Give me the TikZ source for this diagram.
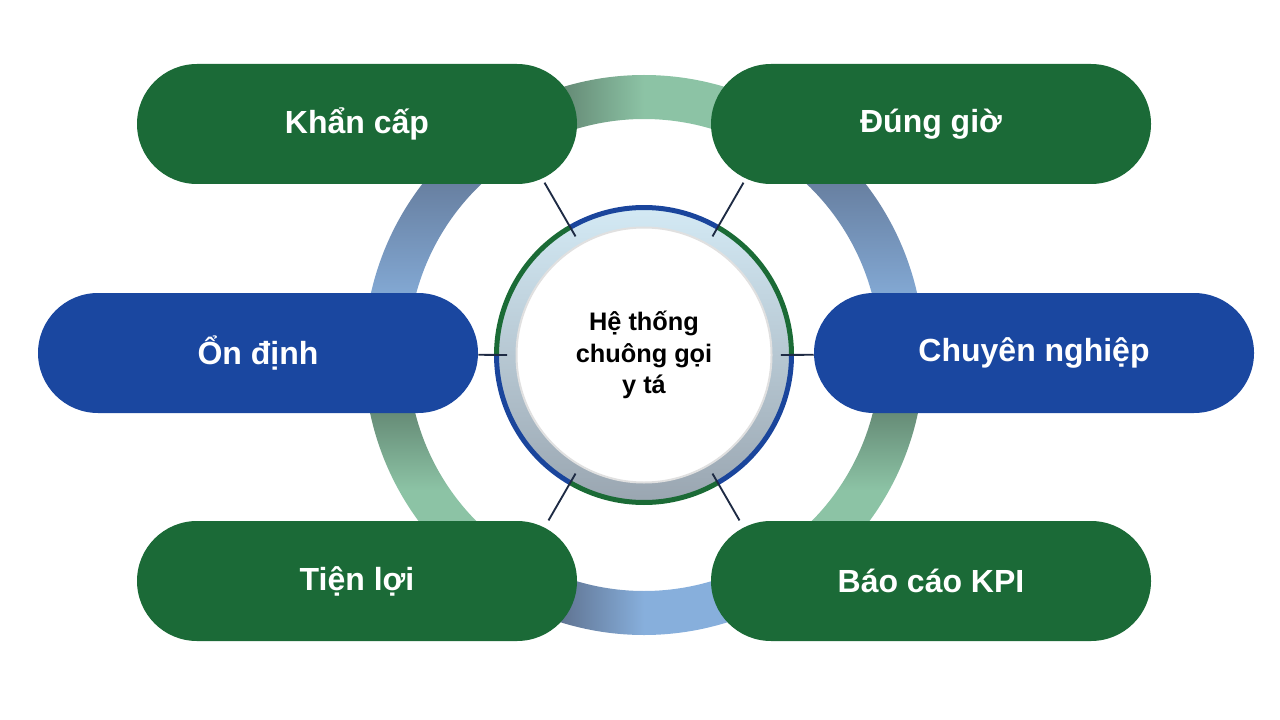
\documentclass[tikz,border=0pt]{standalone}
\usepackage{fontspec}
\setmainfont{Liberation Sans}
\usetikzlibrary{calc}
\definecolor{pillgreen}{HTML}{1B6A37}
\definecolor{pillblue}{HTML}{1A47A0}
\definecolor{ringgreen}{HTML}{8CC3A5}
\definecolor{ringgreendk}{HTML}{5E806D}
\definecolor{ringblue}{HTML}{87AFDC}
\definecolor{ringbluedk}{HTML}{5A6B87}
\definecolor{hubtop}{HTML}{D3E9F4}
\definecolor{hubbot}{HTML}{9AA6B1}
\definecolor{hubgreen}{HTML}{1B6B36}
\definecolor{hubblue}{HTML}{1A459C}
\definecolor{linknavy}{HTML}{1E2B44}
\tikzstyle{greenpill} = [
    rectangle,
    rounded corners=45pt,
    minimum width=330pt,
    minimum height=90pt,
    fill=pillgreen,
    text=white,
    font=\fontsize{24}{28}\selectfont\bfseries
]
\tikzstyle{bluepill} = [greenpill, fill=pillblue]
\tikzstyle{hubtext} = [
    circle,
    minimum size=205pt,
    inner sep=0pt,
    align=center,
    font=\fontsize{19}{23.5}\selectfont\bfseries
]
\tikzstyle{link} = [line width=1.4pt, draw=linknavy]
\newcommand{\ringarc}[3]{%
  \shade[#3] ($(C)+(#1:280)$) arc[start angle=#1, end angle=#2, radius=280]
    -- ($(C)+(#2:236)$) arc[start angle=#2, end angle=#1, radius=236] -- cycle;}

\begin{document}
\begin{tikzpicture}[x=0.75pt, y=0.75pt]
\useasboundingbox (0,0) rectangle (1280,-720);
\coordinate (C) at (644,-355);

\ringarc{70}{110}{left color=ringgreendk, right color=ringgreen, middle color=ringgreen}
\ringarc{125}{170}{top color=ringbluedk, bottom color=ringblue}
\ringarc{10}{55}{top color=ringbluedk, bottom color=ringblue}
\ringarc{190}{235}{top color=ringgreendk, bottom color=ringgreen, middle color=ringgreen}
\ringarc{305}{350}{top color=ringgreendk, bottom color=ringgreen, middle color=ringgreen}
\ringarc{250}{290}{left color=ringbluedk, right color=ringblue, middle color=ringblue}

\shade[top color=hubtop, bottom color=hubbot] (C) circle[radius=146];
\fill[white] (C) circle[radius=127];
\draw[black!12, line width=1.5pt] (C) circle[radius=127.5];
\foreach \a/\c in {0/hubgreen,60/hubblue,120/hubgreen,180/hubblue,240/hubgreen,300/hubblue}
  \draw[\c, line width=3.75pt] ($(C)+(\a:147.5)$) arc[start angle=\a, delta angle=60, radius=147.5];

\node (hub) [hubtext] at (C) {Hệ thống\\chuông gọi\\y tá};

\node (khancap) [greenpill] at (357,-124) {Khẩn cấp};
\node (dunggio) [greenpill] at (931,-124) {Đúng giờ};
\node (ondinh) [bluepill] at (258,-353) {Ổn định};
\node (chuyen) [bluepill] at (1034,-353) {Chuyên nghiệp};
\node (tienloi) [greenpill] at (357,-581) {Tiện lợi};
\node (baocao) [greenpill] at (931,-581) {Báo cáo KPI};

\foreach \a/\r in {60/199,120/199,240/191,300/191}{
  \coordinate (tip\a) at ($(C)+(\a:\r)$);
  \draw [link] (hub.\a) -- (tip\a);
}
\draw [link] (hub.180) -- (ondinh);
\draw [link] (hub.0) -- (chuyen);

\end{tikzpicture}
\end{document}
